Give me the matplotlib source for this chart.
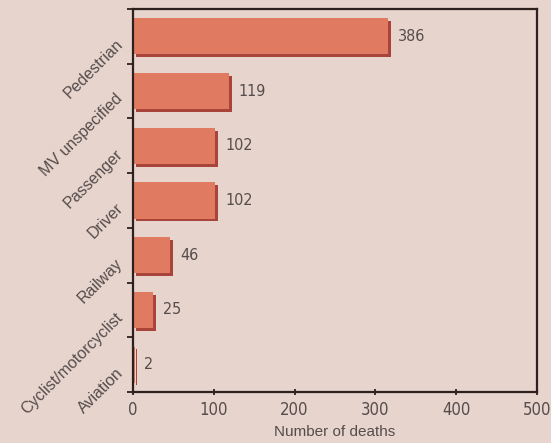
import matplotlib.pyplot as plt
import matplotlib.patheffects as pe
from matplotlib.transforms import ScaledTranslation
import numpy as np

# data
categories = ['Pedestrian', 'MV unspecified', 'Passenger', 'Driver',
              'Railway', 'Cyclist/motorcyclist', 'Aviation']
deaths = [386, 119, 102, 102, 46, 25, 2]
# bar lengths as drawn in the source (pedestrian bar is shorter than its label)
bar_len = [316, 119, 102, 102, 46, 25, 2]
xticks = [0, 100, 200, 300, 400, 500]

bg = '#e6d4cd'
bar_col = '#e07b62'
shadow_col = '#a9443a'
ink = '#2e211d'
txt = '#554c4b'

plt.rcParams['font.family'] = ['Liberation Sans', 'DejaVu Sans']
num_font = dict(family=['DejaVu Sans'], stretch='condensed')

fig = plt.figure(figsize=(5.51, 4.43), dpi=100, facecolor=bg)
ax = fig.add_axes([0.2414, 0.1151, 0.7332, 0.8646], facecolor=bg)

y = np.arange(len(categories))
bars = ax.barh(y, bar_len, height=0.66, color=bar_col, edgecolor='none', zorder=2)
for b in bars:
    b.set_path_effects([pe.SimplePatchShadow(offset=(2, -2), shadow_rgbFace=shadow_col, alpha=1.0),
                        pe.Normal()])

# value labels
for yi, L, d in zip(y, bar_len, deaths):
    ax.annotate(str(d), (L, yi), xytext=(7, 0), textcoords='offset points',
                ha='left', va='center', fontsize=11.5, color=txt, **num_font)

ax.set_xlim(0, 500)
ax.set_ylim(len(categories) - 0.5, -0.5)
ax.set_xticks(xticks)
ax.set_xticklabels([str(t) for t in xticks], fontsize=12, color=txt, **num_font)
ax.tick_params(axis='x', direction='inout', length=5, width=1.3, color=ink, pad=4)

ax.set_yticks(y)
ax.set_yticklabels(categories, rotation=45, ha='right', va='center',
                   rotation_mode='anchor', fontsize=11.5, color=txt)
ax.tick_params(axis='y', which='major', length=0, pad=9)
shift = ScaledTranslation(0, -4 / 72, fig.dpi_scale_trans)
for lab in ax.get_yticklabels():
    lab.set_transform(lab.get_transform() + shift)
ax.set_yticks(np.arange(len(categories) + 1) - 0.5, minor=True)
ax.tick_params(axis='y', which='minor', direction='out', length=4, width=1.3, color=ink)

ax.set_xlabel('Number of deaths', fontsize=11, color=txt, labelpad=4)

for s in ax.spines.values():
    s.set_color(ink)
    s.set_linewidth(1.6)

fig.savefig('out.png', dpi=100, facecolor=bg)
